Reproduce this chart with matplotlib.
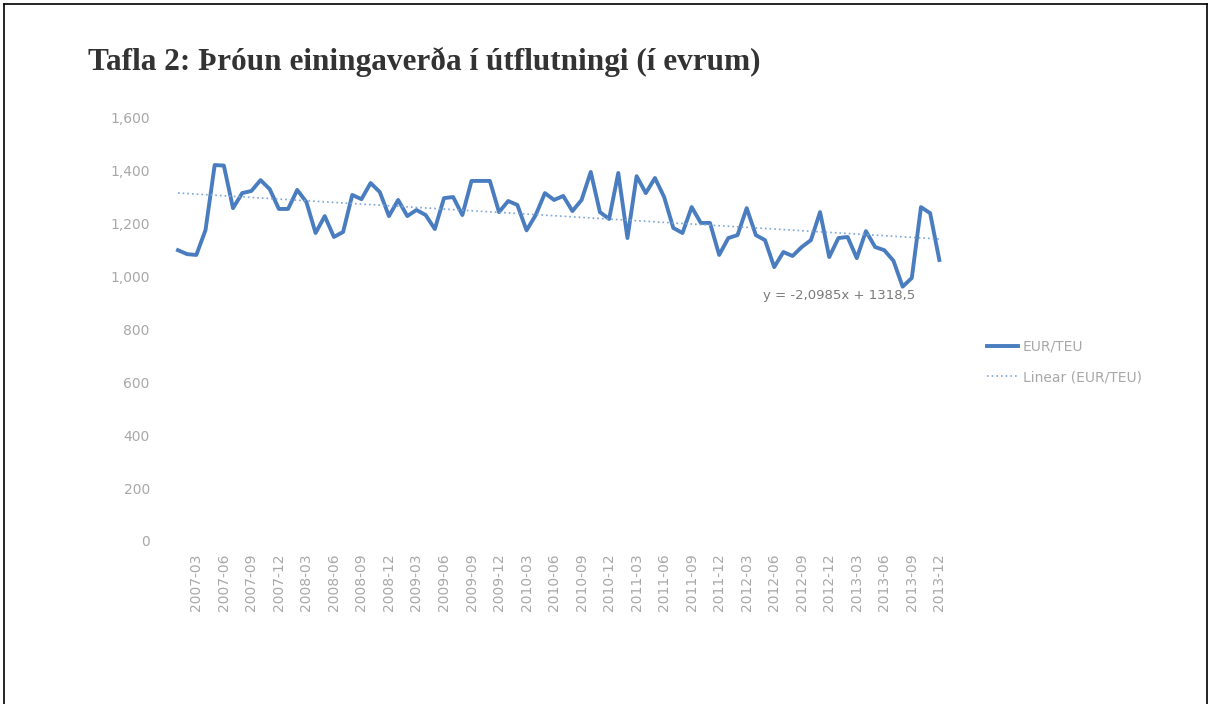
import matplotlib
matplotlib.use("Agg")
import matplotlib.pyplot as plt
from matplotlib.lines import Line2D
from matplotlib.ticker import FuncFormatter

# monthly export unit price, EUR per TEU, 2007-01 .. 2013-12
eur_teu = [1100, 1085, 1082, 1176, 1422, 1420, 1259, 1316, 1324, 1365,
           1331, 1256, 1256, 1328, 1282, 1165, 1229, 1150, 1169, 1309,
           1293, 1354, 1320, 1229, 1290, 1229, 1252, 1233, 1180, 1297,
           1301, 1233, 1362, 1362, 1362, 1244, 1286, 1271, 1175, 1233,
           1316, 1290, 1305, 1248, 1290, 1396, 1244, 1218, 1392, 1146,
           1380, 1316, 1373, 1301, 1184, 1165, 1263, 1203, 1203, 1082,
           1146, 1157, 1259, 1157, 1138, 1036, 1093, 1078, 1112, 1138,
           1244, 1074, 1146, 1150, 1070, 1172, 1112, 1100, 1060, 962,
           995, 1263, 1240, 1063]
years = list(range(2007, 2014))
months = ["%d-%02d" % (y, m) for y in years for m in range(1, 13)]

# linear trend as reported by the spreadsheet
slope = -2.0985
intercept = 1318.5
eq_text = "y = -2,0985x + 1318,5"

y_ticks = [0, 200, 400, 600, 800, 1000, 1200, 1400, 1600]

W, H = 1212, 704
fig = plt.figure(figsize=(W / 100, H / 100), dpi=100)
fig.patch.set_facecolor("white")

# frame around the whole figure
fig.add_artist(Line2D([4 / W, 4 / W], [0, 1 - 4 / H], color="black", lw=1.2))
fig.add_artist(Line2D([1207 / W, 1207 / W], [0, 1 - 4 / H], color="black", lw=1.2))
fig.add_artist(Line2D([4 / W, 1207 / W], [1 - 4 / H, 1 - 4 / H], color="black", lw=1.2))

fig.text(88 / W, 1 - 62 / H, "Tafla 2: Þróun einingaverða í útflutningi (í evrum)",
         family="Liberation Serif", weight="bold", fontsize=22.5, color="#333333",
         va="center", ha="left")

ax = fig.add_axes([173.4 / W, 1 - 541 / H, 770.5 / W, 423 / H])
x = list(range(len(eur_teu)))
trend = [slope * (i + 1) + intercept for i in x]

ax.plot(x, eur_teu, color="#4a7dbf", lw=2.8, solid_joinstyle="round",
        label="EUR/TEU")
ax.plot(x, trend, color="#7ea6d6", lw=1.2, ls=(0, (1, 1.8)),
        label="Linear (EUR/TEU)")

ax.set_xlim(-0.5, len(eur_teu) - 0.5)
ax.set_ylim(0, 1600)
ax.set_yticks(y_ticks)
ax.yaxis.set_major_formatter(FuncFormatter(lambda v, p: "{:,.0f}".format(v)))
ax.set_xticks(x[2::3])
ax.set_xticklabels(months[2::3], rotation=90, va="top", ha="center")

for s in ax.spines.values():
    s.set_visible(False)
ax.tick_params(axis="both", length=0, labelsize=10, labelcolor="#a8a8a8")
ax.tick_params(axis="y", pad=17)
ax.tick_params(axis="x", pad=9)

ax.text(763, H - 296, eq_text, transform=None, fontsize=9.5, color="#7a7a7a",
        va="center", ha="left")

fig.legend(loc="center left", bbox_to_anchor=(980 / W, 1 - 362 / H),
           frameon=False, fontsize=10, labelcolor="#a8a8a8",
           handlelength=2.2, handletextpad=0.4, labelspacing=1.2,
           borderpad=0)

fig.savefig("out.png", dpi=100)
